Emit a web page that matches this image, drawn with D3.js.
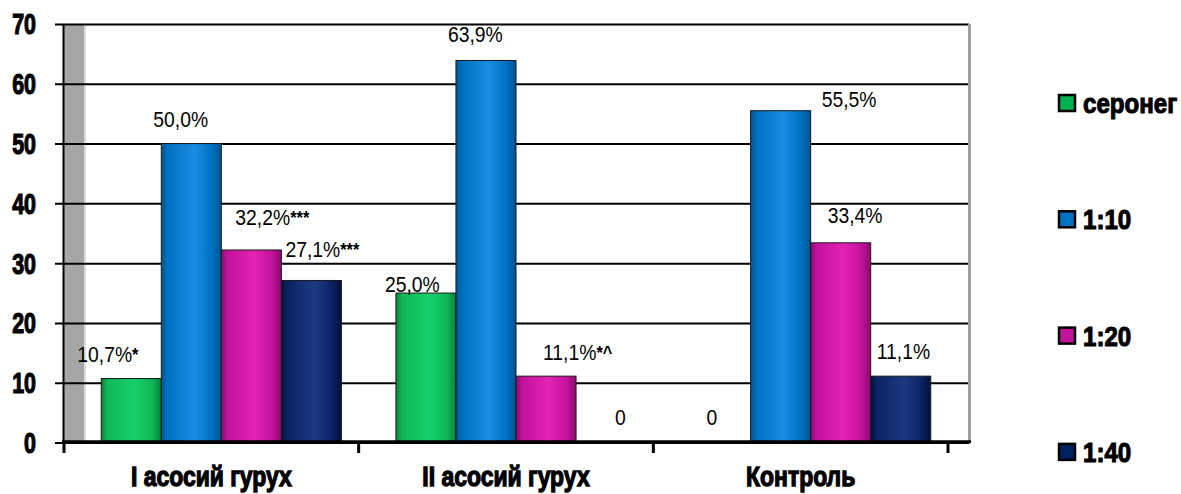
<!DOCTYPE html>
<html>
<head>
<meta charset="utf-8">
<script src="https://cdn.jsdelivr.net/npm/d3@7"></script>
<style>
  body { margin: 0; background: #fff; }
  svg { display: block; }
</style>
</head>
<body>
<svg id="chart" width="1181" height="494"></svg>
<script>
// ---- data ----
const categories = ["I асосий гурух", "II асосий гурух", "Контроль"];
const seriesNames = ["серонег", "1:10", "1:20", "1:40"];
const seroneg = [10.7, 25.0, 0];
const titre10 = [50.0, 63.9, 55.5];
const titre20 = [32.2, 11.1, 33.4];
const titre40 = [27.1, 0, 11.1];
const valueLabels = [
  ["10,7%*", "50,0%", "32,2%***", "27,1%***"],
  ["25,0%", "63,9%", "11,1%*^", "0"],
  ["0", "55,5%", "33,4%", "11,1%"]
];
const yTicks = [0, 10, 20, 30, 40, 50, 60, 70];

// ---- layout / style ----
// hand-placed label offsets [dx, dy] from bar centre / bar top
const labelNudge = [
  [[-54, -17], [-38, -17], [-16, -25], [-26, -23.5]],
  [[-41, -1.5], [-38, -18], [-3, -16], [9, -17.5]],
  [[-14, -17.5], [41, -3.3], [-13, -19.5], [-24, -16.7]]
];
const palette = [
  { dark: "#07803b", base: "#0fb656", light: "#16d06c", swatch: "#00b050" },
  { dark: "#00528f", base: "#0070c0", light: "#1a8ce2", swatch: "#0070c0" },
  { dark: "#8a0b6c", base: "#c2129c", light: "#e423b2", swatch: "#c0139a" },
  { dark: "#000f3c", base: "#0b2262", light: "#1c3a80", swatch: "#002060" }
];
const heavyFont = "Liberation Sans, Arial, sans-serif";

const seriesValues = [seroneg, titre10, titre20, titre40];
const rows = categories.map((c, i) => ({
  cat: c,
  bars: seriesNames.map((s, j) => ({ s, j, v: seriesValues[j][i], label: valueLabels[i][j], nudge: labelNudge[i][j] }))
}));

const svg = d3.select("#chart");
const plot = { left: 63, right: 969, top: 24, bottom: 442.5 };
const depth = 20;

const y = d3.scaleLinear().domain([0, 70]).range([plot.bottom, plot.top]);
const x0 = d3.scaleBand().domain(categories).range([64, 948]).padding(0);
const groupFrac = 0.815;
const x1 = d3.scaleBand().domain(seriesNames).range([0, x0.bandwidth() * groupFrac]).padding(0);
const groupOffset = x0.bandwidth() * (1 - groupFrac) / 2 + depth / 2;

// gradients for the cylinder-like shading of bars
const defs = svg.append("defs");
palette.forEach((p, i) => {
  const g = defs.append("linearGradient").attr("id", "grad" + i)
    .attr("x1", "0%").attr("x2", "100%").attr("y1", "0%").attr("y2", "0%");
  [[0, p.dark], [0.1, p.base], [0.55, p.light], [0.85, p.base], [1, p.dark]].forEach(([o, c]) =>
    g.append("stop").attr("offset", o).attr("stop-color", c));
});

// side wall
svg.append("rect").attr("x", 64).attr("y", plot.top).attr("width", depth)
  .attr("height", plot.bottom - plot.top).attr("fill", "#a6a6a6");
svg.append("rect").attr("x", 64 + depth).attr("y", plot.top).attr("width", 2)
  .attr("height", plot.bottom - plot.top).attr("fill", "#dcdcdc");

// gridlines + y ticks
const yAxis = svg.append("g").attr("transform", `translate(${plot.left},0)`)
  .call(d3.axisLeft(y).tickValues(yTicks).tickSize(-(plot.right - plot.left)).tickFormat(""));
yAxis.select(".domain").remove();
yAxis.selectAll(".tick line").attr("x1", -8).attr("stroke", "#000").attr("stroke-width", 2);

// y tick labels (bold, condensed)
svg.append("g").selectAll("text").data(yTicks).join("text")
  .attr("transform", d => `translate(36,${y(d)}) scale(0.74,1)`)
  .attr("dy", "0.36em")
  .attr("text-anchor", "end")
  .attr("font-family", heavyFont)
  .attr("font-weight", "bold")
  .attr("font-size", 29)
  .attr("stroke", "#000").attr("stroke-width", 1.2)
  .text(d => d);

// y axis line
svg.append("line").attr("x1", 63.5).attr("x2", 63.5).attr("y1", plot.top).attr("y2", plot.bottom + 1)
  .attr("stroke", "#000").attr("stroke-width", 2);

// bars
const groups = svg.append("g").selectAll("g").data(rows).join("g")
  .attr("transform", d => `translate(${x0(d.cat) + groupOffset},0)`);

groups.selectAll("rect").data(d => d.bars.filter(b => b.v > 0)).join("rect")
  .attr("x", b => x1(b.s))
  .attr("y", b => y(b.v))
  .attr("width", x1.bandwidth())
  .attr("height", b => y(0) - y(b.v))
  .attr("fill", b => `url(#grad${b.j})`)
  .attr("stroke", "#1a1a1a").attr("stroke-width", 1);

// right border of the plot
svg.append("line").attr("x1", plot.right + 0.5).attr("x2", plot.right + 0.5)
  .attr("y1", plot.top).attr("y2", plot.bottom)
  .attr("stroke", "#a0a0a0").attr("stroke-width", 3);

// category axis
svg.append("line").attr("x1", 62).attr("x2", 971).attr("y1", 441.8).attr("y2", 441.8)
  .attr("stroke", "#000").attr("stroke-width", 3);
const boundaries = categories.map(c => x0(c)).concat([x0(categories[categories.length - 1]) + x0.bandwidth()]);
svg.append("g").selectAll("line").data(boundaries).join("line")
  .attr("x1", d => d).attr("x2", d => d).attr("y1", 442).attr("y2", 453)
  .attr("stroke", "#000").attr("stroke-width", 3);

svg.append("g").selectAll("text").data(categories).join("text")
  .attr("transform", c => `translate(${x0(c) + x0.bandwidth() / 2},486) scale(0.82,1)`)
  .attr("text-anchor", "middle")
  .attr("font-family", heavyFont)
  .attr("font-weight", "bold")
  .attr("font-size", 28)
  .attr("stroke", "#000").attr("stroke-width", 1.3)
  .text(c => c);

// value labels
const lbl = groups.selectAll("text").data(d => d.bars).join("text")
  .attr("transform", b => `translate(${x1(b.s) + x1.bandwidth() / 2 + b.nudge[0]},${y(b.v) + b.nudge[1]}) scale(0.86,1)`)
  .attr("font-family", "Liberation Sans, Arial, sans-serif")
  .attr("font-size", 22.5)
  .attr("fill", "#000");
lbl.append("tspan").text(b => b.label.match(/^[^*^]*/)[0]);
lbl.append("tspan")
  .attr("font-size", 19).attr("font-weight", "bold").attr("dy", -1)
  .text(b => b.label.slice(b.label.match(/^[^*^]*/)[0].length));

// legend
const legend = svg.append("g").selectAll("g").data(seriesNames).join("g")
  .attr("transform", (d, i) => `translate(1058,${103 + i * 116.3})`);
legend.append("rect").attr("x", 1).attr("y", -8).attr("width", 16).attr("height", 16)
  .attr("fill", (d, i) => palette[i].swatch)
  .attr("stroke", "#000").attr("stroke-width", 2.5);
legend.append("text")
  .attr("transform", "translate(25,0) scale(0.86,1)")
  .attr("dy", "0.36em")
  .attr("font-family", heavyFont)
  .attr("font-weight", "bold")
  .attr("font-size", 28)
  .attr("stroke", "#000").attr("stroke-width", 1.1)
  .text(d => d);
</script>
</body>
</html>
